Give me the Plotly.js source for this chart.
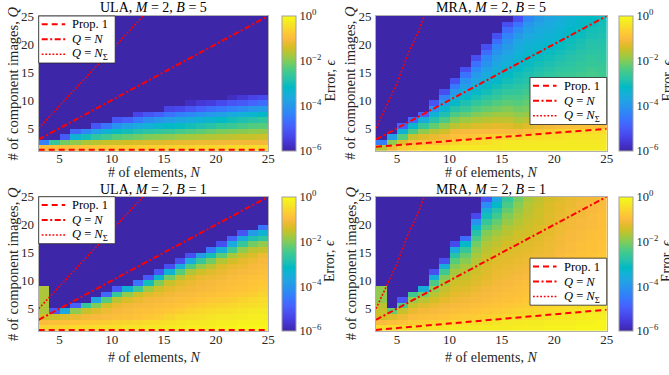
<!DOCTYPE html>
<html><head><meta charset="utf-8">
<script src="https://cdn.plot.ly/plotly-3.0.1.min.js"></script>
<style>html,body{margin:0;padding:0;background:#fff;}#plot{width:669px;height:375px;}</style>
</head><body><div id="plot"></div>
<script>
// ---------- data (log10 of the error) ----------
const nEdges = [3,4,5,6,7,8,9,10,11,12,13,14,15,16,17,18,19,20,21,22,23,24,25];
const qEdges = [1,2,3,4,5,6,7,8,9,10,11,12,13,14,15,16,17,18,19,20,21,22,23,24,25];
const floorLog = -6;          // cells at or below 1e-6 (dark)
const tickVals = [5,10,15,20,25];
const cbVals = [-6,-4,-2,0];
const cbText = ['10<sup>\u22126</sup>','10<sup>\u22124</sup>','10<sup>\u22122</sup>','10<sup>0</sup>'];

// each entry = one column N (3..24), values from Q=1 upward; missing cells are dark
const ulaB5 = [
 [-1.0,-4.4],
 [-0.95,-2.6],
 [-0.9,-2.1,-5.0],
 [-0.85,-1.9,-3.4,-4.8],
 [-0.8,-1.7,-3.0,-4.3],
 [-0.75,-1.6,-2.7,-3.8,-5.1],
 [-0.75,-1.5,-2.5,-3.4,-4.6],
 [-0.7,-1.45,-2.3,-3.1,-4.1,-5.1],
 [-0.7,-1.4,-2.2,-3.0,-3.8,-4.9],
 [-0.65,-1.35,-2.1,-2.85,-3.6,-4.5,-5.4],
 [-0.65,-1.3,-2.0,-2.75,-3.45,-4.2,-5.1],
 [-0.65,-1.3,-1.95,-2.65,-3.3,-4.0,-4.9],
 [-0.6,-1.25,-1.9,-2.55,-3.2,-3.85,-4.6,-5.4],
 [-0.6,-1.2,-1.8,-2.45,-3.1,-3.7,-4.4,-5.3],
 [-0.6,-1.2,-1.75,-2.35,-3.0,-3.55,-4.25,-5.1,-5.8],
 [-0.55,-1.15,-1.7,-2.25,-2.9,-3.4,-4.1,-4.9,-5.6],
 [-0.55,-1.15,-1.65,-2.15,-2.8,-3.3,-3.95,-4.7,-5.5],
 [-0.55,-1.1,-1.6,-2.05,-2.65,-3.15,-3.8,-4.55,-5.3],
 [-0.5,-1.1,-1.55,-2.0,-2.55,-3.0,-3.6,-4.4,-5.1,-5.8],
 [-0.5,-1.1,-1.5,-1.95,-2.45,-2.9,-3.45,-4.2,-5.0,-5.6],
 [-0.5,-1.1,-1.5,-1.9,-2.35,-2.8,-3.3,-4.0,-4.85,-5.4],
 [-0.5,-1.1,-1.45,-1.85,-2.3,-2.7,-3.2,-3.9,-4.7,-5.3]
];
const mraB5 = [
 [-1.6,-4.4],
 [-1.1,-1.9,-3.8],
 [-0.7,-1.3,-2.3,-3.4,-4.9],
 [-0.6,-1.0,-1.5,-2.4,-3.3,-4.8],
 [-0.5,-0.95,-1.3,-1.9,-2.6,-3.5,-4.9],
 [-0.45,-0.9,-1.2,-1.6,-2.2,-2.8,-3.4,-4.1,-5.1],
 [-0.4,-0.8,-1.1,-1.45,-1.9,-2.4,-2.9,-3.3,-3.8,-4.4,-5.2],
 [-0.3,-0.6,-0.9,-1.1,-1.6,-2.0,-2.4,-2.8,-3.2,-3.6,-4.0,-4.5,-5.2],
 [-0.3,-0.5,-0.85,-1.05,-1.45,-1.8,-2.2,-2.55,-2.9,-3.2,-3.5,-3.8,-4.1,-4.6,-5.2],
 [-0.3,-0.45,-0.8,-1.0,-1.35,-1.7,-2.0,-2.35,-2.65,-2.95,-3.2,-3.45,-3.7,-3.95,-4.25,-4.65,-5.2],
 [-0.3,-0.4,-0.7,-1.0,-1.3,-1.6,-1.9,-2.2,-2.5,-2.75,-3.0,-3.2,-3.4,-3.6,-3.8,-4.05,-4.3,-4.7,-5.2],
 [-0.3,-0.35,-0.65,-1.0,-1.25,-1.55,-1.8,-2.1,-2.35,-2.6,-2.8,-3.0,-3.2,-3.35,-3.5,-3.7,-3.85,-4.05,-4.3,-4.7,-5.2],
 [-0.25,-0.3,-0.6,-1.0,-1.3,-1.55,-1.8,-2.0,-2.25,-2.45,-2.65,-2.85,-3.0,-3.15,-3.3,-3.45,-3.6,-3.75,-3.9,-4.1,-4.35,-4.7,-5.2],
 [-0.25,-0.3,-0.6,-1.0,-1.4,-1.7,-1.9,-2.1,-2.3,-2.45,-2.6,-2.75,-2.9,-3.0,-3.15,-3.25,-3.35,-3.45,-3.55,-3.7,-3.9,-4.2,-4.6,-5.2],
 [-0.25,-0.3,-0.5,-0.9,-1.3,-1.6,-1.85,-2.05,-2.2,-2.35,-2.5,-2.65,-2.8,-2.9,-3.0,-3.1,-3.2,-3.3,-3.4,-3.5,-3.65,-3.8,-4.0,-4.3],
 [-0.25,-0.3,-0.45,-0.8,-1.2,-1.5,-1.75,-2.0,-2.15,-2.3,-2.45,-2.55,-2.7,-2.8,-2.9,-3.0,-3.1,-3.2,-3.3,-3.4,-3.5,-3.6,-3.75,-3.9],
 [-0.25,-0.3,-0.4,-0.7,-1.1,-1.45,-1.7,-1.9,-2.1,-2.25,-2.35,-2.5,-2.6,-2.7,-2.8,-2.9,-3.0,-3.1,-3.2,-3.3,-3.4,-3.5,-3.6,-3.7],
 [-0.25,-0.3,-0.4,-0.6,-1.0,-1.4,-1.65,-1.85,-2.0,-2.15,-2.3,-2.4,-2.5,-2.6,-2.7,-2.8,-2.9,-3.0,-3.1,-3.2,-3.3,-3.35,-3.45,-3.5],
 [-0.25,-0.3,-0.35,-0.55,-0.95,-1.35,-1.6,-1.8,-1.95,-2.1,-2.25,-2.35,-2.45,-2.55,-2.65,-2.75,-2.8,-2.9,-3.0,-3.05,-3.15,-3.2,-3.3,-3.35],
 [-0.25,-0.3,-0.35,-0.5,-0.9,-1.3,-1.55,-1.75,-1.9,-2.05,-2.2,-2.3,-2.4,-2.5,-2.6,-2.65,-2.75,-2.8,-2.9,-2.95,-3.05,-3.1,-3.2,-3.25],
 [-0.25,-0.3,-0.35,-0.5,-0.9,-1.3,-1.5,-1.7,-1.85,-2.0,-2.15,-2.25,-2.35,-2.45,-2.5,-2.6,-2.65,-2.75,-2.8,-2.85,-2.95,-3.0,-3.1,-3.15],
 [-0.25,-0.3,-0.35,-0.5,-0.9,-1.3,-1.5,-1.75,-1.9,-2.05,-2.2,-2.3,-2.4,-2.5,-2.55,-2.6,-2.7,-2.75,-2.8,-2.85,-2.9,-2.95,-3.0,-3.05]
];
const ulaB1 = [
 [-0.6,-1.0,-1.4,-1.7,-1.7,-1.7,-1.7,-1.7],
 [-0.6,-0.95,-1.5,-5.0],
 [-0.55,-0.9,-1.3,-3.6],
 [-0.5,-0.85,-1.2,-1.9,-4.9],
 [-0.5,-0.8,-1.1,-1.5,-2.6],
 [-0.45,-0.75,-1.05,-1.3,-2.0,-3.7],
 [-0.4,-0.7,-1.0,-1.15,-1.45,-2.3,-4.8],
 [-0.4,-0.65,-0.95,-1.05,-1.2,-1.6,-2.6,-5.0],
 [-0.35,-0.6,-0.9,-1.0,-1.1,-1.35,-1.9,-3.4],
 [-0.35,-0.55,-0.85,-0.95,-1.05,-1.2,-1.5,-2.5,-4.6],
 [-0.3,-0.5,-0.8,-0.9,-1.0,-1.1,-1.3,-1.8,-3.0,-5.0],
 [-0.3,-0.45,-0.7,-0.85,-0.95,-1.05,-1.2,-1.45,-2.0,-3.3,-5.1],
 [-0.25,-0.4,-0.6,-0.8,-0.9,-1.0,-1.1,-1.25,-1.5,-2.1,-3.4,-5.2],
 [-0.25,-0.35,-0.5,-0.7,-0.85,-0.95,-1.05,-1.15,-1.3,-1.6,-2.3,-3.6,-5.2],
 [-0.2,-0.3,-0.45,-0.6,-0.8,-0.9,-1.0,-1.1,-1.2,-1.35,-1.7,-2.4,-3.6,-5.2],
 [-0.2,-0.3,-0.4,-0.55,-0.7,-0.85,-0.95,-1.05,-1.1,-1.2,-1.45,-1.9,-2.6,-3.9],
 [-0.2,-0.25,-0.35,-0.5,-0.65,-0.8,-0.9,-1.0,-1.05,-1.15,-1.3,-1.6,-2.1,-3.0,-4.6],
 [-0.15,-0.2,-0.3,-0.45,-0.6,-0.75,-0.85,-0.95,-1.0,-1.1,-1.2,-1.35,-1.65,-2.3,-3.5,-5.2],
 [-0.15,-0.2,-0.3,-0.4,-0.55,-0.7,-0.8,-0.9,-0.95,-1.0,-1.1,-1.2,-1.4,-1.75,-2.5,-3.6,-4.9],
 [-0.1,-0.15,-0.25,-0.35,-0.5,-0.6,-0.75,-0.85,-0.9,-0.95,-1.05,-1.15,-1.25,-1.5,-1.9,-2.6,-3.6,-5.1],
 [-0.1,-0.15,-0.2,-0.3,-0.45,-0.55,-0.7,-0.8,-0.85,-0.9,-1.0,-1.05,-1.15,-1.35,-1.6,-2.1,-2.9,-3.9],
 [-0.1,-0.15,-0.2,-0.3,-0.4,-0.5,-0.6,-0.7,-0.8,-0.85,-0.95,-1.0,-1.05,-1.15,-1.5,-1.9,-2.7,-3.4,-4.6]
];
const mraB1 = [
 [-0.5,-1.0,-1.4,-1.5,-1.6,-1.9,-1.9,-1.9],
 [-0.5,-0.9,-1.3,-2.2],
 [-0.45,-0.85,-1.15,-1.5,-2.4,-5.1],
 [-0.4,-0.75,-1.0,-1.2,-1.5,-1.9,-2.5],
 [-0.4,-0.7,-0.95,-1.1,-1.3,-1.6,-2.1,-3.5],
 [-0.35,-0.65,-0.9,-1.05,-1.2,-1.4,-1.6,-1.9,-2.4,-3.5,-5.2],
 [-0.35,-0.6,-0.85,-1.0,-1.1,-1.25,-1.4,-1.55,-1.75,-2.0,-2.5,-3.5,-5.2],
 [-0.3,-0.55,-0.8,-0.95,-1.05,-1.15,-1.25,-1.35,-1.45,-1.6,-1.75,-2.0,-2.3,-2.8,-3.6,-5.3],
 [-0.3,-0.5,-0.75,-0.9,-1.0,-1.1,-1.2,-1.3,-1.4,-1.5,-1.6,-1.75,-1.95,-2.2,-2.6,-3.2,-4.7],
 [-0.3,-0.45,-0.7,-0.85,-0.95,-1.05,-1.1,-1.2,-1.3,-1.35,-1.45,-1.55,-1.65,-1.75,-1.9,-2.1,-2.4,-2.8,-3.3,-4.1,-5.3],
 [-0.25,-0.4,-0.65,-0.8,-0.9,-1.0,-1.05,-1.1,-1.2,-1.25,-1.3,-1.35,-1.4,-1.5,-1.6,-1.7,-1.85,-2.0,-2.3,-2.6,-3.0,-3.5,-4.2,-5.1],
 [-0.25,-0.35,-0.6,-0.75,-0.85,-0.95,-1.0,-1.05,-1.1,-1.15,-1.2,-1.25,-1.3,-1.35,-1.45,-1.55,-1.65,-1.8,-2.0,-2.2,-2.5,-2.8,-3.2,-3.7],
 [-0.25,-0.3,-0.55,-0.7,-0.8,-0.9,-0.95,-1.0,-1.05,-1.1,-1.15,-1.2,-1.25,-1.3,-1.35,-1.4,-1.5,-1.6,-1.7,-1.85,-2.0,-2.2,-2.4,-2.6],
 [-0.2,-0.3,-0.5,-0.65,-0.75,-0.85,-0.9,-0.95,-1.0,-1.05,-1.1,-1.15,-1.2,-1.25,-1.3,-1.35,-1.4,-1.45,-1.55,-1.65,-1.75,-1.85,-1.95,-2.1],
 [-0.2,-0.25,-0.45,-0.6,-0.7,-0.8,-0.85,-0.9,-0.95,-1.0,-1.05,-1.1,-1.15,-1.2,-1.25,-1.3,-1.35,-1.4,-1.45,-1.5,-1.55,-1.6,-1.65,-1.75],
 [-0.2,-0.25,-0.4,-0.55,-0.65,-0.75,-0.8,-0.85,-0.9,-0.95,-1.0,-1.05,-1.1,-1.15,-1.2,-1.25,-1.3,-1.3,-1.35,-1.4,-1.45,-1.45,-1.5,-1.55],
 [-0.15,-0.2,-0.35,-0.5,-0.6,-0.7,-0.75,-0.8,-0.85,-0.9,-0.95,-1.0,-1.05,-1.1,-1.15,-1.15,-1.2,-1.25,-1.25,-1.3,-1.3,-1.35,-1.35,-1.4],
 [-0.15,-0.2,-0.3,-0.45,-0.55,-0.65,-0.7,-0.75,-0.8,-0.85,-0.9,-0.95,-1.0,-1.0,-1.05,-1.1,-1.1,-1.15,-1.15,-1.2,-1.2,-1.25,-1.25,-1.3],
 [-0.15,-0.2,-0.3,-0.4,-0.5,-0.6,-0.65,-0.7,-0.75,-0.8,-0.85,-0.9,-0.9,-0.95,-1.0,-1.0,-1.05,-1.05,-1.1,-1.1,-1.15,-1.15,-1.2,-1.2],
 [-0.1,-0.15,-0.25,-0.35,-0.45,-0.55,-0.6,-0.65,-0.7,-0.75,-0.8,-0.85,-0.85,-0.9,-0.95,-0.95,-1.0,-1.0,-1.05,-1.05,-1.1,-1.1,-1.1,-1.15],
 [-0.1,-0.15,-0.2,-0.3,-0.4,-0.5,-0.55,-0.6,-0.65,-0.7,-0.75,-0.8,-0.8,-0.85,-0.9,-0.9,-0.95,-0.95,-1.0,-1.0,-1.0,-1.05,-1.05,-1.1],
 [-0.1,-0.1,-0.2,-0.3,-0.35,-0.45,-0.5,-0.55,-0.6,-0.65,-0.7,-0.75,-0.75,-0.8,-0.85,-0.85,-0.9,-0.9,-0.95,-0.95,-0.95,-1.0,-1.0,-1.0]
];

// reference lines
const propUlaN = [3, 25];            const propUlaQ = [1, 1];
const propMraB5N = [3, 8, 14, 20, 25]; const propMraB5Q = [1.7, 2.4, 3.3, 4.1, 4.9];
const propMraB1N = [3, 8, 14, 20, 25]; const propMraB1Q = [1.2, 2.0, 3.0, 3.9, 4.8];
const eqN = [3, 25];                 const eqQ = [3, 25];
const nsUlaN = [3, 5, 7, 9, 11, 13, 15];  const nsUlaQ = [5, 9, 13, 17, 21, 25, 29];
const nsMraN = [3, 4, 5, 6, 7, 8];        const nsMraQ = [5, 9, 13, 18, 22, 27];

// ---------- styling ----------
const W = 669, H = 375;
const FONT = "'Liberation Serif', 'Times New Roman', 'DejaVu Serif', serif";
const TXT = '#262626';
const parula = [
 [0.0000,'rgb(62,38,168)'],[0.0476,'rgb(67,50,203)'],[0.0952,'rgb(71,65,229)'],
 [0.1429,'rgb(72,82,244)'],[0.1905,'rgb(69,99,253)'],[0.2381,'rgb(56,117,254)'],
 [0.2857,'rgb(46,135,247)'],[0.3333,'rgb(39,150,235)'],[0.3810,'rgb(32,165,227)'],
 [0.4286,'rgb(18,177,214)'],[0.4762,'rgb(2,186,195)'],[0.5238,'rgb(36,193,174)'],
 [0.5714,'rgb(55,200,151)'],[0.6190,'rgb(87,204,122)'],[0.6667,'rgb(129,204,89)'],
 [0.7143,'rgb(171,199,57)'],[0.7619,'rgb(209,191,39)'],[0.7937,'rgb(230,187,45)'],
 [0.8254,'rgb(248,186,61)'],[0.8571,'rgb(254,195,56)'],[0.9048,'rgb(250,214,45)'],
 [0.9524,'rgb(245,233,36)'],[1.0000,'rgb(249,251,21)']
];
const px = v => v / W, py = v => 1 - v / H;

// plot boxes in pixels
const boxes = [
 {L:38.7, R:268.3, T:16,    B:150.7, cbL:281.7, ax:'',  data:ulaB5, title:'ULA, <i>M</i> = 2, <i>B</i> = 5', xt:172.5, tt:7.5},
 {L:376,  R:606.7, T:16,    B:150.7, cbL:618.7, ax:'2', data:mraB5, title:'MRA, <i>M</i> = 2, <i>B</i> = 5', xt:172.5, tt:7.5},
 {L:38.7, R:268.3, T:196.7, B:331,   cbL:281.7, ax:'3', data:ulaB1, title:'ULA, <i>M</i> = 2, <i>B</i> = 1', xt:357.5, tt:189.5},
 {L:376,  R:606.7, T:196.7, B:331,   cbL:618.7, ax:'4', data:mraB1, title:'MRA, <i>M</i> = 2, <i>B</i> = 1', xt:357.5, tt:189.5}
];

function toGrid(cols) {
  const z = [];
  for (let r = 0; r < qEdges.length - 1; r++) {
    const row = [];
    for (let c = 0; c < cols.length; c++) {
      const v = cols[c][r];
      row.push(v === undefined ? floorLog : v);
    }
    z.push(row);
  }
  return z;
}

const traces = [];
const layout = {
  width: W, height: H, margin: {l:0, r:0, t:0, b:0},
  paper_bgcolor: '#fff', plot_bgcolor: '#fff',
  font: {family: FONT, color: TXT, size: 13},
  showlegend: false, annotations: [], shapes: []
};

const RED = '#ff0000';
const styleDash = {color: RED, width: 2, dash: '6px,4px'};
const styleDashDot = {color: RED, width: 2, dash: '6px,2.5px,2px,2.5px'};
const styleDot = {color: RED, width: 1.6, dash: '1.8px,1.8px'};

boxes.forEach((b, i) => {
  const xa = 'x' + b.ax, ya = 'y' + b.ax;
  const xKey = 'xaxis' + b.ax, yKey = 'yaxis' + b.ax;
  const isMra = (i % 2 === 1);
  const axCommon = {
    showline: true, mirror: true, linecolor: '#b0b0b0', linewidth: 1,
    ticks: '', showgrid: false, zeroline: false, tickvals: tickVals,
    tickfont: {family: FONT, size: 13, color: TXT}, fixedrange: true
  };
  layout[xKey] = Object.assign({}, axCommon, {domain: [px(b.L), px(b.R)], range: [3, 25], anchor: ya, ticklabelstandoff: -4});
  layout[yKey] = Object.assign({}, axCommon, {domain: [py(b.B), py(b.T)], range: [1, 25], anchor: xa, ticklabelstandoff: 1});

  traces.push({
    type: 'heatmap', x: nEdges, y: qEdges, z: toGrid(b.data),
    xaxis: xa, yaxis: ya, zmin: -6, zmax: 0, colorscale: parula, zsmooth: false,
    hoverinfo: 'skip',
    colorbar: {
      x: px(b.cbL), xanchor: 'left', xpad: 0, ypad: 0,
      y: (py(b.B) + py(b.T)) / 2, yanchor: 'middle',
      len: (b.B - b.T) / H, lenmode: 'fraction', thickness: 14.3, thicknessmode: 'pixels',
      outlinecolor: '#a0a0a0', outlinewidth: 1, borderwidth: 0,
      tickvals: cbVals, ticktext: cbText, ticks: '',
      tickfont: {family: FONT, size: 12.5, color: TXT}
    }
  });

  const pN = isMra ? (i === 1 ? propMraB5N : propMraB1N) : propUlaN;
  const pQ = isMra ? (i === 1 ? propMraB5Q : propMraB1Q) : propUlaQ;
  traces.push({type:'scatter', mode:'lines', x: pN, y: pQ, xaxis: xa, yaxis: ya,
    line: Object.assign({}, styleDash, isMra ? {} : {width: 4}), hoverinfo:'skip'});
  traces.push({type:'scatter', mode:'lines', x: eqN, y: eqQ, xaxis: xa, yaxis: ya, line: styleDashDot, hoverinfo:'skip'});
  traces.push({type:'scatter', mode:'lines', x: isMra ? nsMraN : nsUlaN, y: isMra ? nsMraQ : nsUlaQ,
    xaxis: xa, yaxis: ya, line: styleDot, hoverinfo:'skip'});

  const cx = (b.L + b.R) / 2, cy = (b.T + b.B) / 2;
  layout.annotations.push({text: b.title, x: px(cx), y: py(b.tt), xref:'paper', yref:'paper',
    xanchor:'center', yanchor:'middle', showarrow:false, font:{family:FONT, size:14, color:'#000'}});
  layout.annotations.push({text: '# of elements, <i>N</i>', x: px(cx), y: py(b.xt), xref:'paper', yref:'paper',
    xanchor:'center', yanchor:'middle', showarrow:false, font:{family:FONT, size:14, color:TXT}});
  layout.annotations.push({text: '# of component images, <i>Q</i>', x: px(b.L - 25.5), y: py(cy), xref:'paper', yref:'paper',
    xanchor:'center', yanchor:'middle', textangle:-90, showarrow:false, font:{family:FONT, size:14.5, color:TXT}});
  layout.annotations.push({text: 'Error, <i>\u03f5</i>', x: px(b.cbL + 48.5), y: py(cy - 3), xref:'paper', yref:'paper',
    xanchor:'center', yanchor:'middle', textangle:-90, showarrow:false, font:{family:FONT, size:14, color:TXT}});

  const lg = isMra ? {L: 530, R: 606.7, T: b.T + 61.5, B: b.T + 108.5} : {L: b.L, R: b.L + 76.5, T: b.T, B: b.T + 47};
  layout.shapes.push({type:'rect', xref:'paper', yref:'paper', x0:px(lg.L), x1:px(lg.R), y0:py(lg.B), y1:py(lg.T),
    fillcolor:'#ffffff', line:{color:'#262626', width:0.8}, layer:'above'});
  const rows = [lg.T + 8.3, lg.T + 23.3, lg.T + 38.3];
  const styles = [styleDash, styleDashDot, styleDot];
  const labels = ['Prop. 1', '<i>Q</i> = <i>N</i>', '<i>Q</i> = <i>N</i><sub>\u03a3</sub>'];
  rows.forEach((ry, k) => {
    layout.shapes.push({type:'line', xref:'paper', yref:'paper', x0:px(lg.L + 3), x1:px(lg.L + 26.5),
      y0:py(ry), y1:py(ry), line: styles[k], layer:'above'});
    layout.annotations.push({text: labels[k], x: px(lg.L + 31.5), y: py(ry), xref:'paper', yref:'paper',
      xanchor:'left', yanchor:'middle', showarrow:false, font:{family:FONT, size:12.5, color:'#000'}});
  });
});

Plotly.newPlot('plot', traces, layout, {staticPlot: true, displayModeBar: false});
</script></body></html>
